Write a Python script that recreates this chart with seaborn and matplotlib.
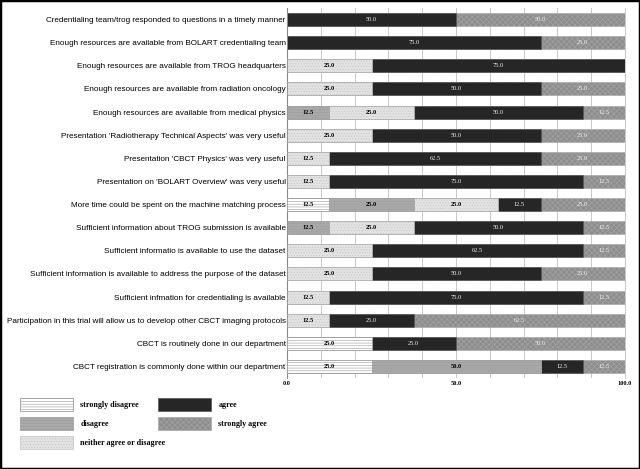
import numpy as np
import pandas as pd
import matplotlib
matplotlib.use('Agg')
import matplotlib.pyplot as plt
from matplotlib.patches import Patch, Rectangle
import seaborn as sns

categories = [
    "Credentialing team/trog responded to questions in a timely manner",
    "Enough resources are available from BOLART credentialing team",
    "Enough resources are available from TROG headquarters",
    "Enough resources are available from radiation oncology",
    "Enough resources are available from medical physics",
    "Presentation 'Radiotherapy Technical Aspects' was very useful",
    "Presentation 'CBCT Physics' was very useful",
    "Presentation on 'BOLART Overview' was very useful",
    "More time could be spent on the machine matching process",
    "Sufficient information about TROG submission is available",
    "Sufficient informatio is available to use the dataset",
    "Sufficient information is available to address the purpose of the dataset",
    "Sufficient infmation for credentialing is available",
    "Participation in this trial will allow us to develop other CBCT imaging protocols",
    "CBCT is routinely done in our department",
    "CBCT registration is commonly done within our department",
]
levels = ["strongly disagree", "disagree", "neither agree or disagree", "agree", "strongly agree"]
strongly_disagree = [0, 0, 0, 0, 0, 0, 0, 0, 12.5, 0, 0, 0, 0, 0, 25, 25]
disagree = [0, 0, 0, 0, 12.5, 0, 0, 0, 25, 12.5, 0, 0, 0, 0, 0, 50]
neither = [0, 0, 25, 25, 25, 25, 12.5, 12.5, 25, 25, 25, 25, 12.5, 12.5, 0, 0]
agree = [50, 75, 75, 50, 50, 50, 62.5, 75, 12.5, 50, 62.5, 50, 75, 25, 25, 12.5]
strongly_agree = [50, 25, 0, 25, 12.5, 25, 25, 12.5, 25, 12.5, 12.5, 25, 12.5, 62.5, 50, 12.5]

df = pd.DataFrame({"question": categories,
                   levels[0]: strongly_disagree, levels[1]: disagree, levels[2]: neither,
                   levels[3]: agree, levels[4]: strongly_agree})
cum = df[levels].cumsum(axis=1)

styles = {
    "strongly disagree": dict(fc="#ffffff", hatch="------", ec="#8a8a8a"),
    "disagree": dict(fc="#a9a9a9", hatch="------", ec="#9a9a9a"),
    "neither agree or disagree": dict(fc="#e2e2e2", hatch="......", ec="#c4c4c4"),
    "agree": dict(fc="#262626", hatch="", ec="#555555"),
    "strongly agree": dict(fc="#8e8e8e", hatch="xxxxxx", ec="#a8a8a8"),
}

plt.rcParams['hatch.linewidth'] = 0.35
fig = plt.figure(figsize=(6.4, 4.69), dpi=100)
ax = fig.add_axes([287 / 640, 1 - 378 / 469, 338 / 640, 370 / 469])

# stacked bars: draw cumulative totals, widest first
for lev in reversed(levels):
    n_before = len(ax.patches)
    sns.barplot(x=cum[lev], y=df["question"], order=categories, orient="h",
                color=styles[lev]["fc"], width=0.56, ax=ax, zorder=3)
    for p in ax.patches[n_before:]:
        p.set_facecolor(styles[lev]["fc"])
        p.set_edgecolor(styles[lev]["ec"])
        p.set_linewidth(0.4)
        p.set_hatch(styles[lev]["hatch"])

for i in range(len(categories)):
    for lev in levels:
        v = df.loc[i, lev]
        if v > 0:
            xc = cum.loc[i, lev] - v / 2
            light = lev in ("agree", "strongly agree")
            ax.text(xc, i, f"{v:.1f}", ha="center", va="center", fontsize=4.6,
                    family="Liberation Serif", weight="normal" if light else "bold",
                    color="#f0f0f0" if light else "black", zorder=5)

ax.set_xlim(0, 100)
ax.set_ylim(len(categories) - 0.5, -0.5)
ax.set_xticks([0, 50, 100])
ax.set_xticklabels(["0.0", "50.0", "100.0"], family="Liberation Serif", weight="bold", fontsize=4.6)
ax.set_xticks(np.arange(0, 101, 10), minor=True)
ax.grid(axis="x", which="both", color="#c8c8c8", linewidth=0.7, zorder=0)
ax.set_axisbelow(True)
ax.tick_params(axis="both", which="both", length=0, pad=2)
ax.set_yticks(range(len(categories)))
ax.set_yticklabels(categories, family="Liberation Sans", fontsize=5.85)
ax.tick_params(axis="y", pad=1)
ax.set_xlabel("")
ax.set_ylabel("")
for s in ["top", "bottom"]:
    ax.spines[s].set_visible(False)
ax.spines["left"].set_color("#888888")
ax.spines["right"].set_color("#c8c8c8")
ax.spines["left"].set_linewidth(0.8)
ax.spines["right"].set_linewidth(0.7)

def handle(lev):
    st = styles[lev]
    return Patch(facecolor=st["fc"], edgecolor=st["ec"], hatch=st["hatch"], linewidth=0.5)

legend_font = dict(family="Liberation Serif", weight="bold", size=5.8)
for levs, x0 in [(levels[:3], 20), (levels[3:], 158)]:
    fig.legend([handle(l) for l in levs], levs, loc="upper left",
               bbox_to_anchor=(x0 / 640, 1 - 398 / 469), frameon=False,
               prop=legend_font, handlelength=6.6, handleheight=2.1,
               labelspacing=0.72, handletextpad=0.9, borderpad=0, borderaxespad=0)

fig.patches.append(Rectangle((0, 0), 1, 1, transform=fig.transFigure, fill=False,
                             ec="black", lw=2.5))
fig.savefig("out.png", dpi=100)
